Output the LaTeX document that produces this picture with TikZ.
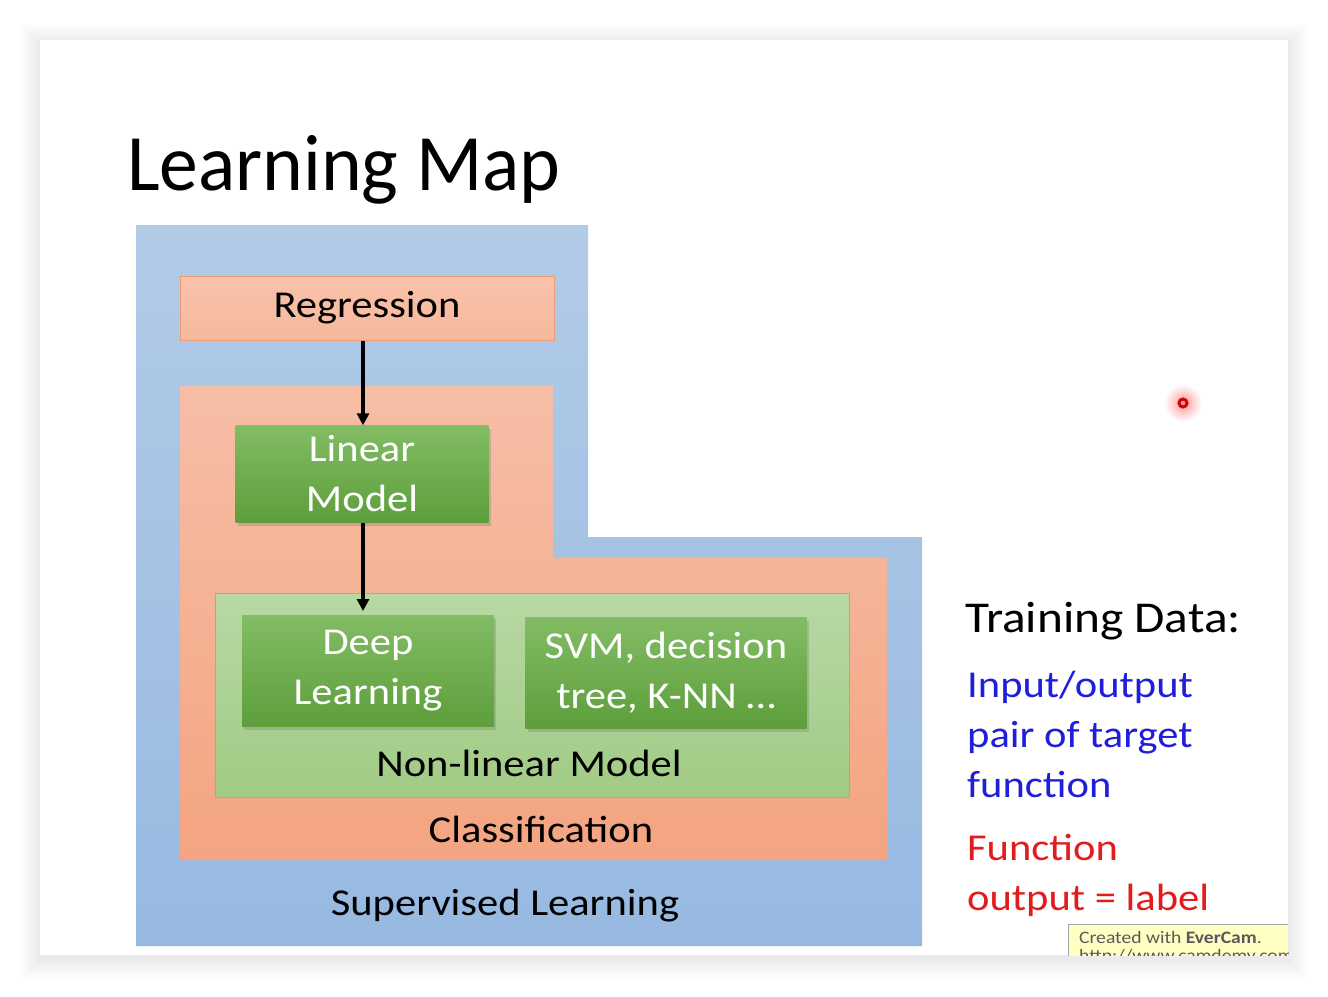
\documentclass[tikz,border=0pt]{standalone}
\usepackage{fontspec}
\setmainfont[FakeStretch=1.12]{Carlito}
\newfontfamily\titlefont[FakeStretch=0.97]{Carlito}
\usetikzlibrary{shadows,arrows.meta}
\definecolor{blueT}{HTML}{B2CBE7}
\definecolor{blueB}{HTML}{97B9E1}
\definecolor{salT}{HTML}{F6BEA6}
\definecolor{salB}{HTML}{F4A481}
\definecolor{regF}{HTML}{F7B89C}
\definecolor{regD}{HTML}{EE9B78}
\definecolor{grT}{HTML}{82BC64}
\definecolor{grB}{HTML}{5D9E3B}
\definecolor{nlT}{HTML}{B8D8A3}
\definecolor{nlB}{HTML}{A0CB85}
\definecolor{nlD}{HTML}{8FBD72}
\definecolor{txtblue}{HTML}{1E1EDC}
\definecolor{txtred}{HTML}{E41B1B}
\definecolor{everY}{HTML}{FFFFC4}
\tikzset{
  body/.style={font=\fontsize{38}{50}\selectfont, text=black},
  greenbox/.style={rectangle, top color=grT, bottom color=grB, draw=none,
     text=white, align=center, font=\fontsize{38}{50}\selectfont,
     drop shadow={shadow xshift=2pt, shadow yshift=-3pt, opacity=0.35}},
  flow/.style={line width=3.5pt, -{Triangle[length=12pt,width=12pt]}},
  side/.style={anchor=base west, inner sep=0pt, font=\fontsize{38}{50}\selectfont}
}
\begin{document}
\begin{tikzpicture}[x=1pt,y=-1pt]
\useasboundingbox (0,0) rectangle (1328,996);
\fill[white] (0,0) rectangle (1328,996);
% slide shadow
\foreach \i in {1,...,20} {
  \fill[black,opacity=0.004] (40-\i,40-\i+4) rectangle (1288+\i,955+\i+4);
}
\fill[white] (40,40) rectangle (1288,955);

% title
\node[anchor=base west, inner sep=0pt, font=\titlefont\fontsize{80}{90}\selectfont] (title) at (127,190) {Learning Map};

% supervised learning region (L shape)
\shade[top color=blueT, bottom color=blueB]
  (136,225) -- (588,225) -- (588,537) -- (922,537) -- (922,946) -- (136,946) -- cycle;
\node[body] (sup) at (505,906) {Supervised Learning};

% classification region (L shape)
\shade[top color=salT, bottom color=salB]
  (180,386) -- (553,386) -- (553,558) -- (887,558) -- (887,860) -- (180,860) -- cycle;
\node[body] (cls) at (541,829) {Classification};

% regression
\node[rectangle, minimum width=374pt, minimum height=64pt, top color=regF!85!white, bottom color=regF,
      draw=regD, line width=1pt, body] (reg) at (367,308) {\raisebox{-3pt}{Regression}};

% non-linear region
\node[rectangle, minimum width=634pt, minimum height=204pt, top color=nlT, bottom color=nlB,
      draw=nlD, line width=1pt] (nl) at (532,695) {};
\node[body] (nllab) at (529,763) {Non-linear Model};

% green boxes
\node[greenbox, minimum width=253pt, minimum height=97pt] (lin) at (362,474) {\raisebox{-2pt}{Linear}\\\raisebox{-2pt}{Model}};
\node[greenbox, minimum width=252pt, minimum height=111pt] (dl) at (368,671) {\raisebox{-3pt}{Deep}\\\raisebox{-3pt}{Learning}};
\node[greenbox, minimum width=281pt, minimum height=111pt] (svm) at (666,673) {\raisebox{-2pt}{SVM, decision}\\\raisebox{-2pt}{tree, K-NN \dots}};

% arrows
\coordinate (dltop) at (363,611);
\draw[flow] (reg.south -| 363,0) -- (lin.north -| 363,0);
\draw[flow] (lin.south -| 363,0) -- (dltop);

% right text
\node[anchor=base west, inner sep=0pt, font=\fontsize{44}{50}\selectfont] (td) at (965,632) {Training Data:};
\node[side, text=txtblue] (b1) at (967,697) {Input/output};
\node[side, text=txtblue] (b2) at (967,747) {pair of target};
\node[side, text=txtblue] (b3) at (967,797) {function};
\node[side, text=txtred] (r1) at (967,860) {Function};
\node[side, text=txtred] (r2) at (967,910) {output = label};

% laser pointer dot
\shade[inner color=red!40, outer color=white] (1183,403) circle (19);
\draw[red!85!black, line width=3pt] (1183,403) circle (4);

% EverCam watermark
\begin{scope}
  \clip (1068,924) rectangle (1288,955);
  \fill[everY] (1068,924) rectangle (1288,960);
  \draw[black!35, line width=1pt] (1068.5,924.5) rectangle (1300,980);
  \node[anchor=base west, inner sep=0pt, text=black!65, font=\fontsize{17.5}{19}\selectfont] (ev1) at (1079,943) {Created with \textbf{EverCam}.};
  \node[anchor=base west, inner sep=0pt, text=black!65, font=\fontsize{17.5}{19}\selectfont] (ev2) at (1079,961) {http://www.camdemy.com};
\end{scope}
\end{tikzpicture}
\end{document}
